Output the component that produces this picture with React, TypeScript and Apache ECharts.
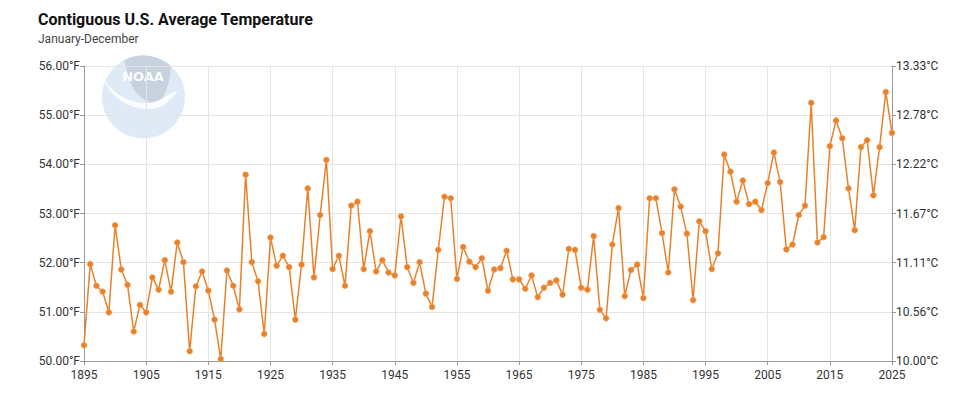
import React, { useEffect, useRef } from "react";
import * as echarts from "echarts";

const temps: number[] = [
  50.32, 51.97, 51.53, 51.41, 50.99, 52.76, 51.86, 51.55, 50.60, 51.14,
  50.99, 51.70, 51.45, 52.05, 51.41, 52.41, 52.01, 50.20, 51.52, 51.82,
  51.43, 50.84, 50.04, 51.84, 51.53, 51.05, 53.79, 52.01, 51.62, 50.55,
  52.51, 51.94, 52.14, 51.91, 50.84, 51.96, 53.51, 51.70, 52.97, 54.09,
  51.87, 52.14, 51.53, 53.16, 53.24, 51.87, 52.64, 51.82, 52.05, 51.80,
  51.74, 52.94, 51.91, 51.59, 52.01, 51.37, 51.10, 52.26, 53.34, 53.31,
  51.67, 52.32, 52.02, 51.91, 52.09, 51.43, 51.86, 51.89, 52.24, 51.66,
  51.66, 51.47, 51.74, 51.30, 51.49, 51.59, 51.64, 51.35, 52.28, 52.26,
  51.49, 51.45, 52.54, 51.04, 50.87, 52.37, 53.11, 51.32, 51.85, 51.96,
  51.28, 53.31, 53.31, 52.60, 51.80, 53.49, 53.14, 52.59, 51.24, 52.84,
  52.64, 51.87, 52.19, 54.20, 53.85, 53.24, 53.67, 53.19, 53.24, 53.07,
  53.62, 54.24, 53.64, 52.27, 52.37, 52.97, 53.16, 55.25, 52.41, 52.52,
  54.37, 54.89, 54.53, 53.51, 52.66, 54.35, 54.49, 53.37, 54.35, 55.47,
  54.64,
];
const firstYear = 1895;
const years: string[] = temps.map((_, i) => String(firstYear + i));

const titleText = "Contiguous U.S. Average Temperature";
const subtitleText = "January-December";
const yMin = 50;
const yMax = 56;

const FONT = "Roboto, 'Noto Sans', sans-serif";

echarts.graphic.registerShape(
  "noaaBowl",
  echarts.graphic.extendPath(
    "M 124 60 A 41.5 41.5 0 0 1 171 66 Q 170 86 162 99 L 150 103 Q 137 96 132 86 Q 127 74 124 60 Z",
    {}
  )
);
echarts.graphic.registerShape(
  "noaaSwoosh",
  echarts.graphic.extendPath(
    "M 103 79 Q 118 100 142 103 Q 155 104 163 98 Q 170 93 178 91 Q 172 99 165 104 Q 156 110 144 109 Q 116 106 103 79 Z",
    {}
  )
);

export default function App() {
  const ref = useRef<HTMLDivElement>(null);
  useEffect(() => {
    if (!ref.current) return;
    const chart = echarts.init(ref.current, undefined, { renderer: "svg" });
    chart.setOption({
      animation: false,
      backgroundColor: "#ffffff",
      textStyle: { fontFamily: FONT },
      title: {
        text: titleText,
        subtext: subtitleText,
        left: 38,
        top: 11,
        padding: 0,
        itemGap: 6,
        textStyle: { fontFamily: FONT, fontSize: 16, fontWeight: "bold", color: "#111" },
        subtextStyle: { fontFamily: FONT, fontSize: 12, color: "#444" },
      },
      graphic: [
        {
          type: "circle",
          z: -10,
          silent: true,
          shape: { cx: 143.5, cy: 97, r: 41.5 },
          style: { fill: "rgba(90,155,210,0.2)" },
        },
        {
          type: "noaaBowl",
          z: -9,
          silent: true,
          style: { fill: "rgba(150,150,165,0.3)" },
        },
        {
          type: "noaaSwoosh",
          z: -9,
          silent: true,
          style: { fill: "rgba(255,255,255,0.85)" },
        },
        {
          type: "text",
          z: -8,
          silent: true,
          x: 143,
          y: 76,
          style: {
            text: "NOAA",
            fill: "rgba(255,255,255,0.95)",
            font: "bold 13px 'DejaVu Sans', sans-serif",
            align: "center",
            verticalAlign: "middle",
          },
        },
      ],
      grid: { left: 84, right: 82, top: 66, bottom: 37, containLabel: false },
      xAxis: {
        type: "category",
        data: years,
        boundaryGap: false,
        axisLine: { lineStyle: { color: "#999" } },
        axisTick: { show: true, interval: 9, length: 4, lineStyle: { color: "#999" } },
        axisLabel: { interval: 9, color: "#333", fontSize: 12, margin: 8, fontFamily: FONT },
        splitLine: { show: true, interval: 9, lineStyle: { color: "#e4e4e4" } },
      },
      yAxis: [
        {
          type: "value",
          min: yMin,
          max: yMax,
          interval: 1,
          position: "left",
          axisLine: { show: true, lineStyle: { color: "#999" } },
          axisTick: { show: true, length: 4, lineStyle: { color: "#999" } },
          axisLabel: {
            color: "#333",
            fontSize: 12,
            margin: 4,
            fontFamily: FONT,
            formatter: (v: number) => v.toFixed(2) + "°F",
          },
          splitLine: { show: true, lineStyle: { color: "#e4e4e4" } },
        },
        {
          type: "value",
          min: yMin,
          max: yMax,
          interval: 1,
          position: "right",
          axisLine: { show: true, lineStyle: { color: "#999" } },
          axisTick: { show: true, length: 4, lineStyle: { color: "#999" } },
          axisLabel: {
            color: "#333",
            fontSize: 12,
            margin: 4,
            fontFamily: FONT,
            formatter: (v: number) => (((v - 32) * 5) / 9).toFixed(2) + "°C",
          },
          splitLine: { show: false },
        },
      ],
      series: [
        {
          type: "line",
          data: temps,
          yAxisIndex: 0,
          symbol: "circle",
          symbolSize: 6,
          showAllSymbol: true,
          lineStyle: { color: "#e8812b", width: 1.5 },
          itemStyle: { color: "#e8812b", borderColor: "#f6b47a", borderWidth: 0.6 },
          z: 3,
        },
      ],
    });
    return () => chart.dispose();
  }, []);
  return (
    <div
      ref={ref}
      style={{ position: "fixed", left: 0, top: 0, width: 974, height: 398 }}
    />
  );
}
